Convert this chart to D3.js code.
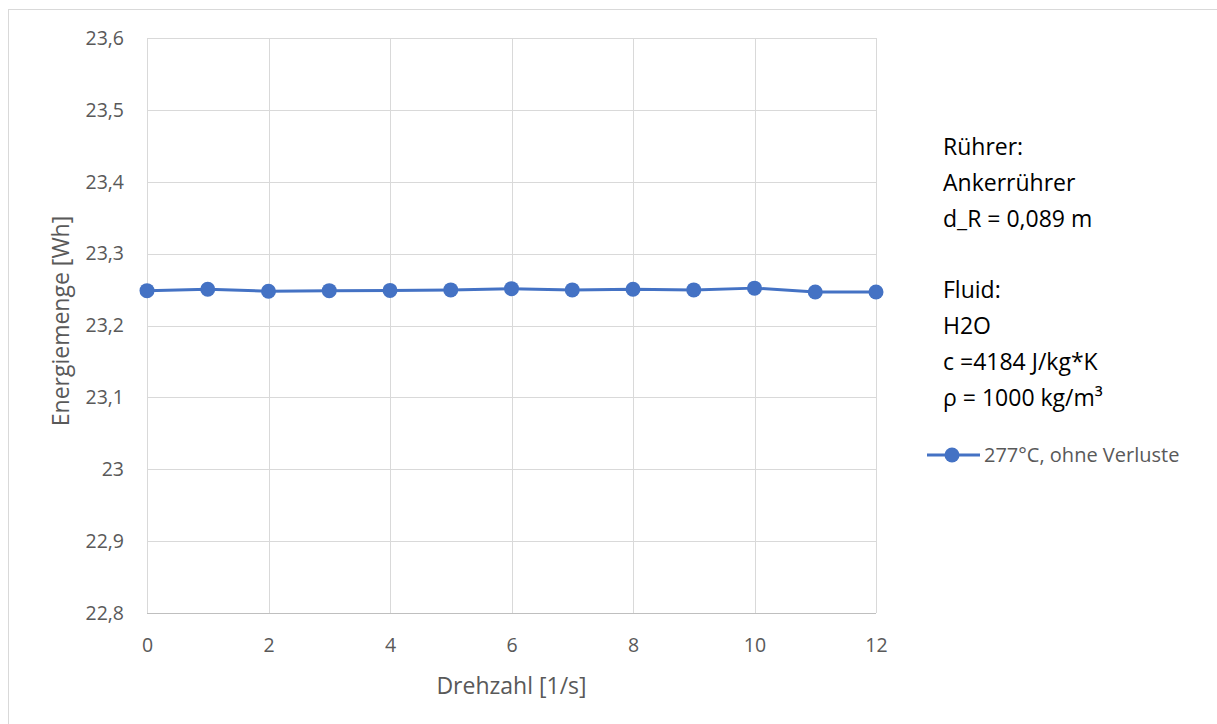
<!DOCTYPE html>
<html>
<head>
<meta charset="utf-8">
<script src="https://cdn.jsdelivr.net/npm/d3@7"></script>
<style>
  body { margin: 0; background: #fff; }
  svg { display: block; font-family: 'Open Sans', sans-serif; }
</style>
</head>
<body>
<svg width="1217" height="724"></svg>
<script>
// Drehzahl [1/s]
var drehzahl = [0, 1, 2, 3, 4, 5, 6, 7, 8, 9, 10, 11, 12];
// Energiemenge [Wh], 277°C ohne Verluste
var energie = [23.2485, 23.2505, 23.2477, 23.2485, 23.2488, 23.2495, 23.2513,
               23.2495, 23.2505, 23.2495, 23.2520, 23.2467, 23.2467];
var xTicks = [0, 2, 4, 6, 8, 10, 12];
var yTicks = [22.8, 22.9, 23, 23.1, 23.2, 23.3, 23.4, 23.5, 23.6];
var seriesName = "277°C, ohne Verluste";
var notes = ["Rührer:", "Ankerrührer", "d_R = 0,089 m", "", "Fluid:", "H2O", "c =4184 J/kg*K", "ρ = 1000 kg/m³"];

var svg = d3.select("svg");
var blue = "#4472c4";

// chart frame
svg.append("rect")
  .attr("x", 8.5).attr("y", 9.5)
  .attr("width", 1240).attr("height", 740)
  .attr("fill", "none").attr("stroke", "#d9d9d9");

var xScale = d3.scaleLinear().domain([0, 12]).range([147, 876]),
    yScale = d3.scaleLinear().domain([22.8, 23.6]).range([613, 38]);

var fmt = function(d){ return String(+d.toFixed(1)).replace(".", ","); };

// horizontal grid
svg.append("g")
  .selectAll("line")
  .data(yTicks)
  .enter().append("line")
  .attr("x1", xScale(0)).attr("x2", xScale(12))
  .attr("y1", function(d){ return Math.round(yScale(d)) + 0.5; })
  .attr("y2", function(d){ return Math.round(yScale(d)) + 0.5; })
  .attr("stroke", function(d){ return d === 22.8 ? "#bfbfbf" : "#d9d9d9"; })
  .attr("stroke-width", 1);

// vertical grid
svg.append("g")
  .selectAll("line")
  .data(xTicks)
  .enter().append("line")
  .attr("x1", function(d){ return Math.round(xScale(d)) + 0.5; })
  .attr("x2", function(d){ return Math.round(xScale(d)) + 0.5; })
  .attr("y1", yScale(23.6)).attr("y2", yScale(22.8))
  .attr("stroke", "#d9d9d9")
  .attr("stroke-width", 1);

// y axis labels
var yAxis = svg.append("g")
  .attr("transform", "translate(124,0)")
  .call(d3.axisLeft(yScale).tickValues(yTicks).tickFormat(fmt).tickSize(0).tickPadding(0));
yAxis.select(".domain").remove();
yAxis.selectAll("text")
  .attr("fill", "#595959")
  .attr("font-size", "19.5px")
  .attr("font-family", "'Open Sans', sans-serif");

// x axis labels
var xAxis = svg.append("g")
  .attr("transform", "translate(0,638)")
  .call(d3.axisBottom(xScale).tickValues(xTicks).tickFormat(d3.format("d")).tickSize(0).tickPadding(0));
xAxis.select(".domain").remove();
xAxis.selectAll("text")
  .attr("fill", "#595959")
  .attr("font-size", "19.5px")
  .attr("font-family", "'Open Sans', sans-serif");

// axis titles
svg.append("text")
  .attr("x", xScale(6)).attr("y", 694)
  .attr("text-anchor", "middle")
  .attr("fill", "#595959")
  .attr("font-size", "23px")
  .text("Drehzahl [1/s]");

svg.append("text")
  .attr("transform", "translate(69,321) rotate(-90)")
  .attr("text-anchor", "middle")
  .attr("fill", "#595959")
  .attr("font-size", "23px")
  .text("Energiemenge [Wh]");

// series line
var line = d3.line()
  .x(function(d, i){ return xScale(drehzahl[i]); })
  .y(function(d){ return yScale(d); });

svg.append("path")
  .datum(energie)
  .attr("d", line)
  .attr("fill", "none")
  .attr("stroke", blue)
  .attr("stroke-width", 3)
  .attr("stroke-linejoin", "round");

svg.append("g")
  .selectAll("circle")
  .data(energie)
  .enter().append("circle")
  .attr("cx", function(d, i){ return xScale(drehzahl[i]); })
  .attr("cy", function(d){ return yScale(d); })
  .attr("r", 7.5)
  .attr("fill", blue);

// annotation text
svg.append("g")
  .selectAll("text")
  .data(notes)
  .enter().append("text")
  .attr("x", 943)
  .attr("y", function(d, i){ return 155 + i * 35.8; })
  .attr("fill", "#000")
  .attr("font-size", "23px")
  .text(function(d){ return d; });

// legend
var lg = svg.append("g").attr("transform", "translate(927,455)");
lg.append("line")
  .attr("x1", 0).attr("x2", 53).attr("y1", 0).attr("y2", 0)
  .attr("stroke", blue).attr("stroke-width", 3);
lg.append("circle")
  .attr("cx", 25).attr("cy", 0).attr("r", 7.5).attr("fill", blue);
lg.append("text")
  .attr("x", 57).attr("y", 7)
  .attr("fill", "#595959")
  .attr("font-size", "20px")
  .text(seriesName);
</script>
</body>
</html>
